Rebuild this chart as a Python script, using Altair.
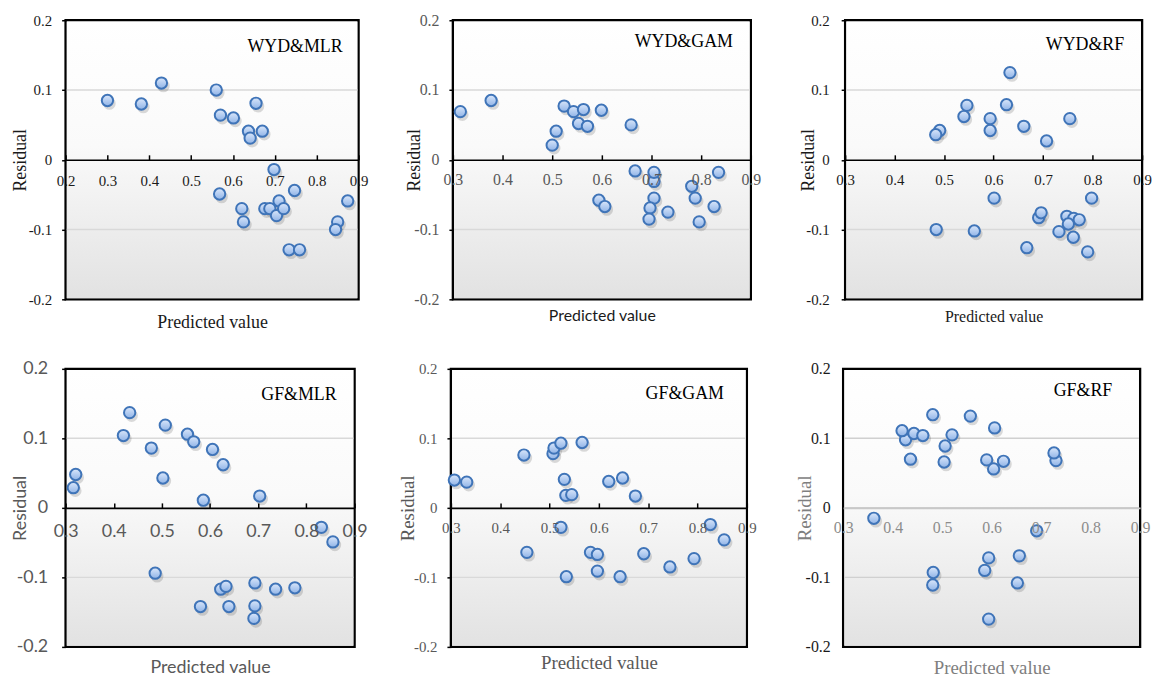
import altair as alt
import pandas as pd

# ---------------- data ----------------
wyd_mlr_x = [0.300, 0.381, 0.429, 0.560, 0.570, 0.601, 0.655, 0.637, 0.641, 0.670, 0.698, 0.568, 0.621,
             0.625, 0.676, 0.688, 0.704, 0.710, 0.721, 0.747, 0.734, 0.759, 0.850, 0.845, 0.874]
wyd_mlr_y = [0.085, 0.080, 0.110, 0.100, 0.064, 0.060, 0.081, 0.041, 0.031, 0.041, -0.014, -0.049, -0.070,
             -0.089, -0.070, -0.070, -0.080, -0.059, -0.070, -0.044, -0.129, -0.129, -0.089, -0.100, -0.059]

wyd_gam_x = [0.315, 0.377, 0.500, 0.508, 0.524, 0.543, 0.563, 0.553, 0.571, 0.599, 0.659, 0.667, 0.705,
             0.705, 0.594, 0.606, 0.705, 0.697, 0.695, 0.733, 0.781, 0.788, 0.796, 0.826, 0.835]
wyd_gam_y = [0.069, 0.085, 0.021, 0.041, 0.077, 0.069, 0.072, 0.052, 0.048, 0.071, 0.050, -0.016, -0.031,
             -0.018, -0.058, -0.067, -0.055, -0.069, -0.085, -0.075, -0.038, -0.055, -0.089, -0.067, -0.018]

wyd_rf_x = [0.633, 0.546, 0.540, 0.626, 0.593, 0.593, 0.491, 0.483, 0.661, 0.754, 0.707, 0.601, 0.798,
            0.484, 0.561, 0.691, 0.696, 0.748, 0.762, 0.773, 0.751, 0.732, 0.761, 0.667, 0.790]
wyd_rf_y = [0.125, 0.078, 0.062, 0.079, 0.042, 0.059, 0.042, 0.036, 0.048, 0.059, 0.027, -0.055, -0.055,
            -0.100, -0.102, -0.083, -0.076, -0.081, -0.084, -0.086, -0.092, -0.103, -0.111, -0.126, -0.132]

gf_mlr_x = [0.321, 0.316, 0.420, 0.433, 0.478, 0.502, 0.507, 0.553, 0.566, 0.605, 0.627, 0.586, 0.703,
            0.831, 0.855, 0.486, 0.580, 0.622, 0.633, 0.639, 0.693, 0.693, 0.691, 0.736, 0.776]
gf_mlr_y = [0.048, 0.029, 0.104, 0.137, 0.086, 0.043, 0.119, 0.106, 0.095, 0.084, 0.062, 0.011, 0.017,
            -0.028, -0.049, -0.094, -0.142, -0.117, -0.113, -0.142, -0.108, -0.141, -0.159, -0.117, -0.115]

gf_gam_x = [0.307, 0.332, 0.448, 0.507, 0.509, 0.523, 0.566, 0.530, 0.533, 0.545, 0.620, 0.648, 0.674,
            0.523, 0.454, 0.583, 0.597, 0.597, 0.534, 0.643, 0.691, 0.744, 0.793, 0.826, 0.854]
gf_gam_y = [0.040, 0.037, 0.076, 0.078, 0.086, 0.093, 0.094, 0.041, 0.018, 0.019, 0.038, 0.043, 0.017,
            -0.028, -0.064, -0.064, -0.067, -0.091, -0.099, -0.099, -0.066, -0.085, -0.073, -0.024, -0.046]

gf_rf_x = [0.362, 0.426, 0.419, 0.443, 0.461, 0.436, 0.481, 0.506, 0.504, 0.520, 0.557, 0.606, 0.604,
           0.590, 0.624, 0.730, 0.726, 0.691, 0.656, 0.594, 0.586, 0.481, 0.482, 0.652, 0.594]
gf_rf_y = [-0.015, 0.098, 0.111, 0.107, 0.104, 0.070, 0.134, 0.089, 0.066, 0.105, 0.132, 0.115, 0.056,
           0.069, 0.067, 0.068, 0.079, -0.033, -0.069, -0.072, -0.090, -0.111, -0.093, -0.108, -0.160]

panel_labels = ["WYD&MLR", "WYD&GAM", "WYD&RF", "GF&MLR", "GF&GAM", "GF&RF"]

x_ticks_a = [0.2, 0.3, 0.4, 0.5, 0.6, 0.7, 0.8, 0.9]
x_ticks_b = [0.3, 0.4, 0.5, 0.6, 0.7, 0.8, 0.9]
y_ticks = [-0.2, -0.1, 0.0, 0.1, 0.2]
grid_values = [-0.1, 0.1]
grid_values_zero = [-0.1, 0.0, 0.1]
y_limits = [-0.2, 0.2]

x_title = "Predicted value"
y_title = "Residual"

# ---------------- styles ----------------
SERIF = "Liberation Serif"
SANS = "Lato"
DARK = "#1a1a1a"
GREY = "#595959"

point_fill = alt.Gradient(
    gradient="linear", x1=0, x2=0, y1=0, y2=1,
    stops=[alt.GradientStop(color="#dbe7fa", offset=0),
           alt.GradientStop(color="#b4cdf1", offset=0.5),
           alt.GradientStop(color="#90b3e6", offset=1)])

bg_fill = alt.Gradient(
    gradient="linear", x1=0, x2=0, y1=0, y2=1,
    stops=[alt.GradientStop(color="#ffffff", offset=0),
           alt.GradientStop(color="#fafafa", offset=0.45),
           alt.GradientStop(color="#e2e2e2", offset=1)])

Y_EXPR = "datum.value == 0 ? '0' : (datum.value < 0 ? '-' : '') + format(abs(datum.value), '.1f')"
X_EXPR = "format(datum.value, '.1f')"


def panel(label, xs, ys, xt, gv, w, h, st):
    df = pd.DataFrame({"x": xs, "y": ys})
    xmin = xt[0]
    x_limits = [xmin, 0.9]
    xscale = alt.Scale(domain=x_limits, nice=False, zero=False)
    yscale = alt.Scale(domain=y_limits, nice=False, zero=False)
    xaxis = alt.Axis(
        orient="top", offset=-h / 2, values=xt, grid=False, zindex=1,
        domain=True, domainColor=st["xdom"], domainWidth=1.6,
        ticks=True, tickSize=5, tickColor=st["xtick"], tickWidth=1.5,
        labelBaseline="middle", labelPadding=-(st["xd"] + 5), labelFlush=False,
        labelOverlap=False, labelBound=False, labelExpr=X_EXPR,
        labelFont=st["xlf"], labelFontSize=st["xls"], labelColor=st["xlc"],
        title=x_title, titleFont=st["xtf"], titleFontSize=st["xts"], titleColor=st["xtc"],
        titleFontWeight="normal", titleX=w / 2, titleY=h / 2 + st["ty"], titleAlign="center",
        titleBaseline="middle", titleAngle=0)
    yaxis = alt.Axis(
        orient="left", values=y_ticks, domain=False, grid=False,
        ticks=True, tickSize=4, tickColor=st["ytick"], tickWidth=1.5,
        labelPadding=st["yp"], labelExpr=Y_EXPR, labelOverlap=False, labelFlush=False,
        labelFont=st["ylf"], labelFontSize=st["yls"], labelColor=st["ylc"],
        title=y_title, titleFont=st["ytf"], titleFontSize=st["yts"], titleColor=st["ytc"],
        titleFontWeight="normal", titleX=-st["tx"], titleY=h / 2, titleAngle=270,
        titleAlign="center", titleBaseline="middle")

    one = pd.DataFrame({"k": [0]})
    # background inset by the frame width so the view's black stroke stays visible
    bg = alt.Chart(one).mark_rect(fill=bg_fill, strokeWidth=0).encode(
        x=alt.value(1.2), x2=alt.value(w - 1.2), y=alt.value(1.2), y2=alt.value(h - 1.2))
    grid = alt.Chart(pd.DataFrame({"g": gv})).mark_rule(
        color=st["grid"], strokeWidth=1.5).encode(
        y=alt.Y("g:Q", scale=yscale, axis=yaxis), x=alt.value(1.2), x2=alt.value(w - 1.2))
    base = alt.Chart(df).encode(
        x=alt.X("x:Q", scale=xscale, axis=xaxis),
        y=alt.Y("y:Q", scale=yscale, axis=yaxis),
    )
    shadow = base.mark_circle(size=160, color="#000000", opacity=0.14, xOffset=2, yOffset=3)
    pts = base.mark_circle(size=130, fill=point_fill, stroke="#3f74b8", strokeWidth=2,
                           opacity=1, fillOpacity=1, strokeOpacity=1)
    lab = alt.Chart(pd.DataFrame({"t": [label]})).mark_text(
        align="right", baseline="middle", font=SERIF, fontSize=18, color="#000000"
    ).encode(text="t:N", x=alt.value(w - st["lx"]), y=alt.value(st["ly"]))
    return alt.layer(bg, grid, shadow, pts, lab).properties(width=w, height=h)


def style(**kw):
    d = dict(xdom="#000000", xtick="#000000", ytick="#000000", grid="#d9d9d9",
             xlf=SERIF, xls=15, xlc=DARK, xtf=SERIF, xts=18, xtc=DARK, xd=21,
             ylf=SERIF, yls=15, ylc=DARK, ytf=SERIF, yts=18, ytc=DARK, yp=10,
             tx=45, ty=23, lx=16, ly=27)
    d.update(kw)
    return d


H1 = 281
H2 = 280
p1 = panel(panel_labels[0], wyd_mlr_x, wyd_mlr_y, x_ticks_a, grid_values, 295, H1, style())
p2 = panel(panel_labels[1], wyd_gam_x, wyd_gam_y, x_ticks_b, grid_values, 300, H1,
           style(xls=16, yls=16, xlc=GREY, ylc=GREY, xtf=SANS, xts=16, xd=20,
                 tx=39, ty=16, lx=18, ly=22))
p3 = panel(panel_labels[2], wyd_rf_x, wyd_rf_y, x_ticks_b, grid_values, 299, H1,
           style(xts=16, xd=20, yp=12, tx=37, ty=17, lx=18, ly=25))
p4 = panel(panel_labels[3], gf_mlr_x, gf_mlr_y, x_ticks_b, grid_values, 291, H2,
           style(xlf=SANS, ylf=SANS, xls=18, yls=18, xlc=GREY, ylc=GREY, xtf=SANS, ytf=SANS,
                 xts=18, yts=18, xtc=GREY, ytc=GREY, xd=24, yp=14, tx=45, ty=21, lx=18, ly=26))
p5 = panel(panel_labels[4], gf_gam_x, gf_gam_y, x_ticks_b, grid_values, 298, H2,
           style(xlc=GREY, ylc=GREY, xts=19, yts=19, xtc=GREY, ytc=GREY, xd=20,
                 tx=44, ty=16, lx=23, ly=25))
p6 = panel(panel_labels[5], gf_rf_x, gf_rf_y, x_ticks_b, grid_values_zero, 299, H2,
           style(xdom="#c8c8c8", xtick="rgba(0,0,0,0)", ytick="rgba(0,0,0,0)", grid="#d0d0d0",
                 xls=16, yls=16, xlc="#8c8c8c", xts=19, yts=19, xtc="#7f7f7f", ytc="#7f7f7f",
                 xd=20, yp=9, tx=39, ty=21, lx=28, ly=22))

row1 = alt.hconcat(p1, p2, p3, spacing=95, bounds="flush")
row2 = alt.hconcat(p4, p5, p6, spacing=97, bounds="flush")
chart = alt.vconcat(row1, row2, spacing=25).properties(
    padding={"left": 2, "top": 0, "right": 0, "bottom": 0},
    background="#ffffff",
).configure_view(
    stroke="#000000", strokeWidth=2.4, fill="#ffffff"
)

chart.save("out.html", embed_options={"renderer": "svg", "actions": False})
